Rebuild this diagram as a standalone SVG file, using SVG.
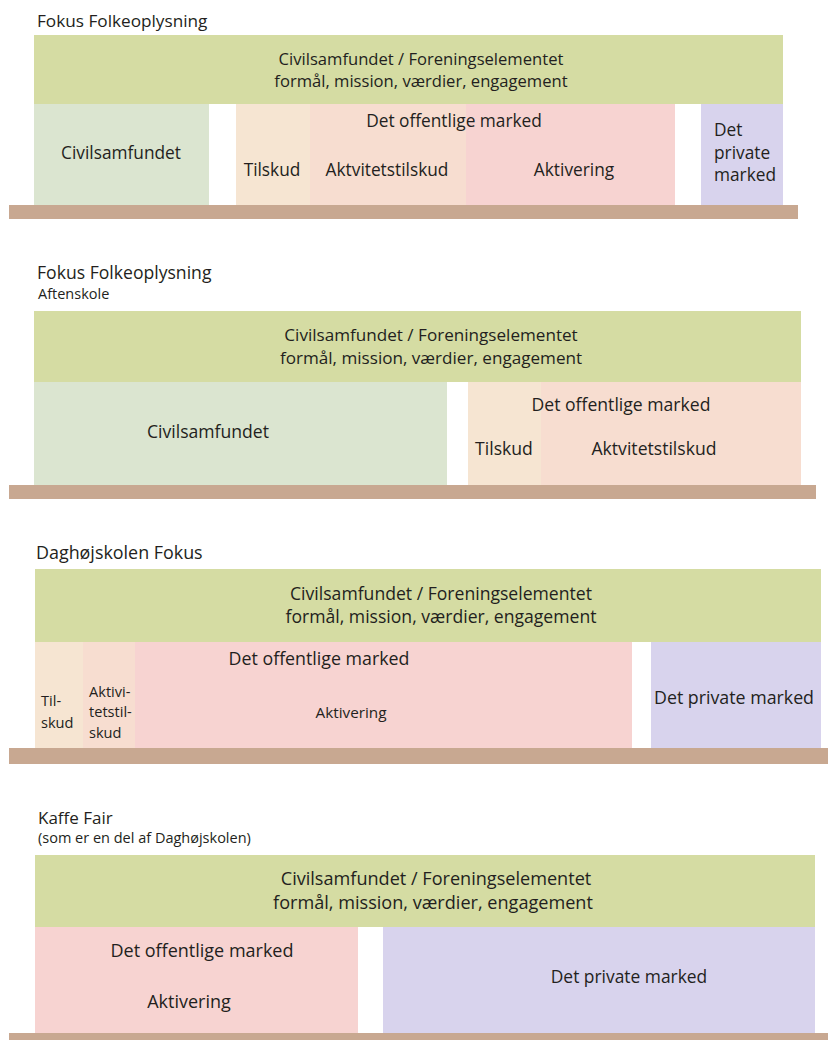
<svg xmlns="http://www.w3.org/2000/svg" width="828" height="1040" viewBox="0 0 828 1040">
<style>
text{font-family:"Open Sans","Noto Sans","Liberation Sans",sans-serif;fill:#231f20}
.h1{font-size:16.6px}
.b1{font-size:17.3px}
.h2{font-size:17.1px}
.b2{font-size:17.6px}
.h3{font-size:17.6px}
.b3{font-size:17.8px}
.h4{font-size:18.1px}
.b4{font-size:18px}
.ti{font-size:17.5px}
.s{font-size:14.5px}
.n{font-size:14.6px}
.c{text-anchor:middle}
.top{fill:#d5dca3}
.civ{fill:#dbe5d0}
.til{fill:#f6e5d2}
.akt{fill:#f7ddd0}
.aktv{fill:#f7d3d1}
.priv{fill:#d8d3ed}
.gnd{fill:#c8a891}
</style>
<rect width="828" height="1040" fill="#ffffff"/>

<!-- Panel 1 -->
<g id="panel1">
  <text class="ti" x="37" y="27" style="font-size:17.2px">Fokus Folkeoplysning</text>
  <g id="p1-top"><rect class="top" x="34" y="35" width="749" height="69"/>
    <text class="h1 c" x="421" y="65">Civilsamfundet / Foreningselementet</text>
    <text class="h1 c" x="421" y="87">formål, mission, værdier, engagement</text></g>
  <g id="p1-civil"><rect class="civ" x="34" y="104" width="175" height="101"/>
    <text class="b1 c" x="121" y="159">Civilsamfundet</text></g>
  <g id="p1-tilskud"><rect class="til" x="236" y="104" width="74" height="101"/>
    <text class="b1 c" x="272" y="176">Tilskud</text></g>
  <g id="p1-aktivitet"><rect class="akt" x="310" y="104" width="156" height="101"/>
    <text class="b1 c" x="387" y="176">Aktvitetstilskud</text></g>
  <g id="p1-aktivering"><rect class="aktv" x="466" y="104" width="209" height="101"/>
    <text class="b1 c" x="574" y="176">Aktivering</text></g>
  <text id="p1-offentlig" class="b1 c" x="454" y="127">Det offentlige marked</text>
  <g id="p1-privat"><rect class="priv" x="701" y="104" width="82" height="101"/>
    <text class="b1" x="714" y="136">Det</text>
    <text class="b1" x="714" y="159">private</text>
    <text class="b1" x="714" y="181">marked</text></g>
  <rect id="p1-ground" class="gnd" x="9" y="205" width="789" height="14"/>
</g>

<!-- Panel 2 -->
<g id="panel2">
  <text class="ti" x="37" y="279" style="font-size:17.6px">Fokus Folkeoplysning</text>
  <text class="s" x="38" y="299">Aftenskole</text>
  <g id="p2-top"><rect class="top" x="34" y="311" width="767" height="71"/>
    <text class="h2 c" x="431" y="341">Civilsamfundet / Foreningselementet</text>
    <text class="h2 c" x="431" y="364">formål, mission, værdier, engagement</text></g>
  <g id="p2-civil"><rect class="civ" x="34" y="382" width="413" height="103"/>
    <text class="b2 c" x="208" y="438">Civilsamfundet</text></g>
  <g id="p2-tilskud"><rect class="til" x="468" y="382" width="73" height="103"/>
    <text class="b2 c" x="504" y="455">Tilskud</text></g>
  <g id="p2-aktivitet"><rect class="akt" x="541" y="382" width="260" height="103"/>
    <text class="b2 c" x="654" y="455">Aktvitetstilskud</text></g>
  <text id="p2-offentlig" class="b2 c" x="621" y="411">Det offentlige marked</text>
  <rect id="p2-ground" class="gnd" x="9" y="485" width="807" height="14"/>
</g>

<!-- Panel 3 -->
<g id="panel3">
  <text class="ti" x="36" y="559" style="font-size:17.9px">Daghøjskolen Fokus</text>
  <g id="p3-top"><rect class="top" x="35" y="569" width="786" height="73"/>
    <text class="h3 c" x="441" y="600">Civilsamfundet / Foreningselementet</text>
    <text class="h3 c" x="441" y="623">formål, mission, værdier, engagement</text></g>
  <g id="p3-tilskud"><rect class="til" x="35" y="642" width="48" height="106"/>
    <text class="n" x="41" y="706">Til-</text>
    <text class="n" x="41" y="728">skud</text></g>
  <g id="p3-aktivitet"><rect class="akt" x="83" y="642" width="52" height="106"/>
    <text class="n" x="89" y="697">Aktivi-</text>
    <text class="n" x="89" y="717">tetstil-</text>
    <text class="n" x="89" y="738">skud</text></g>
  <g id="p3-aktivering"><rect class="aktv" x="135" y="642" width="497" height="106"/>
    <text class="b3 c" x="319" y="665">Det offentlige marked</text>
    <text class="c" x="351" y="718" style="font-size:15.3px">Aktivering</text></g>
  <g id="p3-privat"><rect class="priv" x="651" y="642" width="170" height="106"/>
    <text class="b3 c" x="734" y="704">Det private marked</text></g>
  <rect id="p3-ground" class="gnd" x="9" y="748" width="819" height="16"/>
</g>

<!-- Panel 4 -->
<g id="panel4">
  <text class="ti" x="38" y="824" style="font-size:17px">Kaffe Fair</text>
  <text class="s" x="38" y="843">(som er en del af Daghøjskolen)</text>
  <g id="p4-top"><rect class="top" x="35" y="855" width="780" height="72"/>
    <text class="h4 c" x="436" y="885">Civilsamfundet / Foreningselementet</text>
    <text class="h4 c" x="433" y="909">formål, mission, værdier, engagement</text></g>
  <g id="p4-offentlig"><rect class="aktv" x="35" y="927" width="323" height="106"/>
    <text class="b4 c" x="202" y="957">Det offentlige marked</text>
    <text class="b4 c" x="189" y="1008">Aktivering</text></g>
  <g id="p4-privat"><rect class="priv" x="383" y="927" width="432" height="106"/>
    <text class="b4 c" x="629" y="983" style="font-size:17.4px">Det private marked</text></g>
  <rect id="p4-ground" class="gnd" x="9" y="1033" width="819" height="7"/>
</g>
</svg>
